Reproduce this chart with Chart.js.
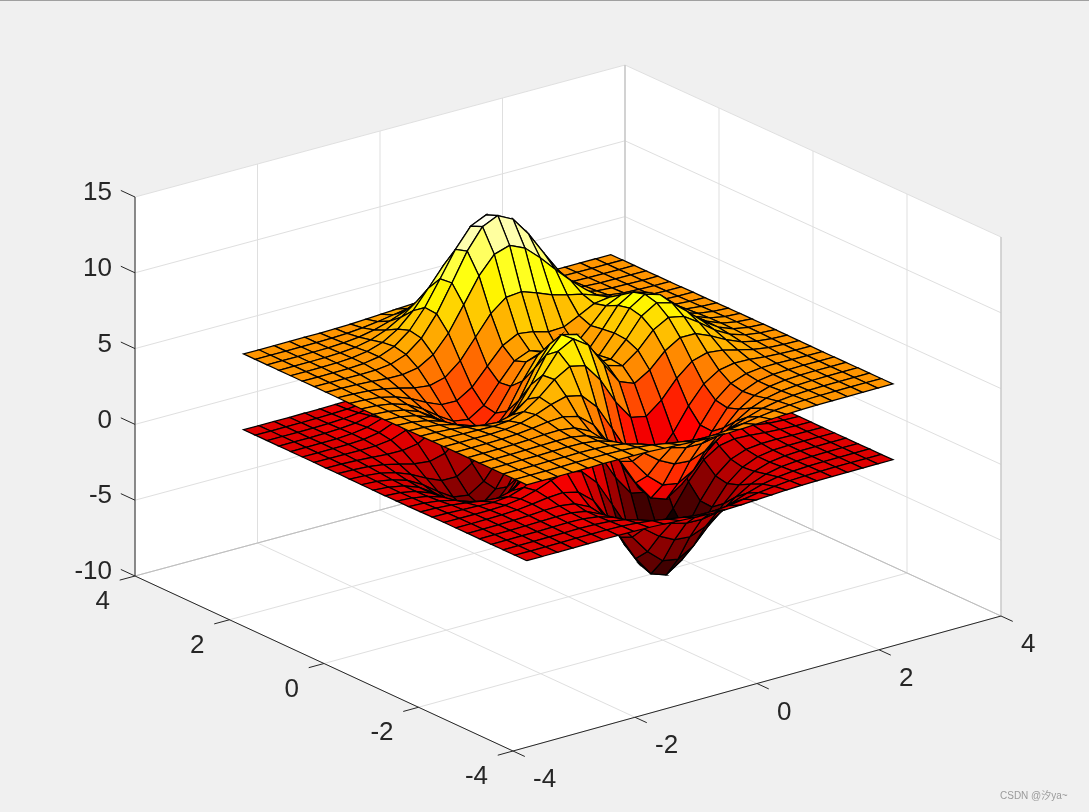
<!DOCTYPE html>
<html><head><meta charset="utf-8">
<style>html,body{margin:0;padding:0;background:#f0f0f0;overflow:hidden}canvas{display:block}#topline{position:absolute;left:0;top:0;width:1089px;height:1px;background:#a0a0a0}</style>
<script src="https://cdn.jsdelivr.net/npm/chart.js@4"></script></head><body>
<canvas id="c" width="1089" height="812"></canvas><div id="topline"></div>
<script>
const gridX=[-3,-2.75,-2.5,-2.25,-2,-1.75,-1.5,-1.25,-1,-0.75,-0.5,-0.25,0,0.25,0.5,0.75,1,1.25,1.5,1.75,2,2.25,2.5,2.75,3];
const gridY=[-3,-2.75,-2.5,-2.25,-2,-1.75,-1.5,-1.25,-1,-0.75,-0.5,-0.25,0,0.25,0.5,0.75,1,1.25,1.5,1.75,2,2.25,2.5,2.75,3];
const heights=[
[0,0,0,0,0,.01,0,-.01,-.03,-.08,-.14,-.20,-.25,-.25,-.22,-.17,-.11,-.06,-.03,-.01,-.01,0,0,0,0],
[0,0,0,0,.01,.01,0,-.02,-.10,-.22,-.39,-.56,-.68,-.69,-.61,-.46,-.30,-.17,-.08,-.03,-.01,0,0,0,0],
[0,0,0,.01,.01,.02,0,-.07,-.23,-.53,-.91,-1.31,-1.57,-1.60,-1.41,-1.06,-.69,-.38,-.18,-.08,-.03,-.01,0,0,0],
[0,0,.01,.01,.03,.04,.01,-.12,-.44,-.99,-1.74,-2.51,-3.02,-3.10,-2.72,-2.05,-1.32,-.73,-.35,-.14,-.05,-.01,0,0,0],
[0,0,.01,.02,.05,.07,.05,-.13,-.59,-1.45,-2.64,-3.88,-4.76,-4.93,-4.35,-3.27,-2.10,-1.15,-.53,-.20,-.06,-.01,0,0,0],
[0,0,.01,.03,.07,.13,.15,.02,-.46,-1.48,-3.01,-4.70,-5.98,-6.33,-5.64,-4.24,-2.69,-1.42,-.61,-.20,-.04,0,.01,0,0],
[0,0,.01,.03,.08,.19,.33,.39,.15,-.68,-2.19,-4.08,-5.68,-6.33,-5.76,-4.32,-2.64,-1.27,-.44,-.07,.04,.05,.03,.01,0],
[0,-.01,-.01,-.01,.03,.17,.45,.84,1.11,.88,-.14,-1.85,-3.60,-4.60,-4.40,-3.22,-1.74,-.56,.08,.27,.23,.13,.06,.02,.01],
[-.01,-.02,-.06,-.10,-.13,-.04,.30,.98,1.86,2.45,2.22,1.00,-.72,-2.02,-2.22,-1.43,-.27,.58,.88,.77,.50,.26,.11,.04,.01],
[-.02,-.05,-.12,-.25,-.42,-.51,-.28,.49,1.78,3.09,3.63,2.94,1.40,-.01,-.41,.20,1.18,1.79,1.78,1.35,.82,.41,.18,.06,.02],
[-.03,-.08,-.20,-.44,-.80,-1.16,-1.21,-.60,.80,2.49,3.55,3.30,2.00,.70,.39,1.14,2.20,2.76,2.56,1.88,1.12,.56,.24,.09,.03],
[-.03,-.10,-.27,-.60,-1.14,-1.78,-2.16,-1.84,-.57,1.23,2.56,2.63,1.58,.53,.48,1.50,2.76,3.37,3.09,2.25,1.34,.67,.28,.10,.03],
[-.04,-.11,-.30,-.69,-1.33,-2.14,-2.77,-2.71,-1.65,.06,1.48,1.75,.98,.19,.37,1.57,2.94,3.58,3.27,2.37,1.41,.70,.30,.11,.03],
[-.03,-.11,-.29,-.67,-1.32,-2.16,-2.87,-2.98,-2.15,-.65,.68,1.06,.52,-.03,.28,1.47,2.76,3.36,3.06,2.22,1.32,.66,.28,.10,.03],
[-.03,-.09,-.25,-.57,-1.12,-1.85,-2.49,-2.64,-2.00,-.76,.39,.80,.46,.09,.38,1.34,2.38,2.83,2.56,1.85,1.09,.54,.23,.08,.03],
[-.02,-.07,-.18,-.42,-.81,-1.33,-1.76,-1.78,-1.16,-.05,1.04,1.55,1.42,1.12,1.17,1.65,2.17,2.32,1.99,1.40,.82,.40,.17,.06,.02],
[-.01,-.04,-.11,-.25,-.48,-.74,-.86,-.60,.23,1.51,2.79,3.59,3.69,3.34,2.93,2.66,2.43,2.08,1.58,1.04,.58,.28,.11,.04,.01],
[-.01,-.02,-.06,-.12,-.20,-.22,-.05,.55,1.69,3.29,4.92,6.07,6.39,5.94,5.02,3.97,2.97,2.09,1.35,.79,.41,.19,.07,.03,.01],
[0,-.01,-.02,-.03,-.01,.11,.48,1.27,2.61,4.37,6.20,7.54,8.00,7.48,6.25,4.72,3.25,2.05,1.19,.62,.29,.12,.05,.02,0],
[0,0,0,.01,.07,.24,.65,1.43,2.67,4.29,5.96,7.22,7.68,7.20,5.99,4.45,2.96,1.78,.96,.47,.21,.08,.03,.01,0],
[0,0,.01,.02,.08,.23,.55,1.16,2.10,3.31,4.56,5.51,5.86,5.50,4.57,3.37,2.21,1.29,.68,.32,.13,.05,.02,0,0],
[0,0,0,.02,.06,.15,.36,.74,1.32,2.07,2.84,3.43,3.65,3.43,2.84,2.09,1.36,.79,.41,.19,.08,.03,.01,0,0],
[0,0,0,.01,.03,.08,.19,.39,.69,1.07,1.47,1.77,1.89,1.77,1.47,1.08,.70,.40,.21,.09,.04,.01,0,0,0],
[0,0,0,0,.01,.04,.08,.17,.30,.47,.64,.77,.82,.77,.64,.47,.30,.17,.09,.04,.02,.01,0,0,0],
[0,0,0,0,.01,.01,.03,.06,.11,.17,.23,.28,.30,.28,.23,.17,.11,.06,.03,.01,.01,0,0,0,0]
];
const upperOffset=5, lowerOffset=0;
const xTicks=[-4,-2,0,2,4], yTicks=[-4,-2,0,2,4], zTicks=[-10,-5,0,5,10,15];
const xTickLabels=["-4","-2","0","2","4"], yTickLabels=["-4","-2","0","2","4"], zTickLabels=["-10","-5","0","5","10","15"];
const watermark="CSDN @汐ya~";

// view of the 3D box onto the 2D scales
const O={x:568,y:444.4}, UX={x:61,y:-16.875}, UY={x:-47.25,y:-21.875}, UZ=-15.16;
const P=(x,y,z)=>{const b=(x+4)*(y+4)/64;return {x:O.x+UX.x*x+UY.x*y+2*b, y:O.y+UX.y*x+UY.y*y+UZ*z+3*b};};

const upper=heights.map(r=>r.map(v=>upperOffset+v));
const lower=heights.map(r=>r.map(v=>lowerOffset+v));
const cMin=Math.min(...lower.flat()), cMax=Math.max(...upper.flat());
function hot(z){
  const m=64,n=24;
  let i=Math.min(m-1,Math.floor((z-cMin)/(cMax-cMin)*m));
  const r=Math.min(1,(i+1)/n), g=Math.max(0,Math.min(1,(i+1-n)/n)), b=Math.max(0,Math.min(1,(i+1-2*n)/(m-2*n)));
  return `rgb(${Math.round(r*255)},${Math.round(g*255)},${Math.round(b*255)})`;
}
const ds=[]; // painted back to front, reversed at the end for Chart.js
const line=(pts,color,w)=>ds.push({data:pts,showLine:true,borderColor:color,borderWidth:w,pointRadius:0,fill:false,clip:false,tension:0});
ds.push({data:[P(-4,4,15),P(4,4,15),P(4,-4,15),P(4,-4,-10),P(-4,-4,-10),P(-4,4,-10),P(-4,4,15)],showLine:true,borderWidth:0,borderColor:'#fff',backgroundColor:'#fff',pointRadius:0,fill:'shape',clip:false});
const GRID='#dfdfdf', EDGE='#bdbdbd', AX='#262626';
for(const v of xTicks){ line([P(v,-4,-10),P(v,4,-10)],GRID,1); line([P(v,4,-10),P(v,4,15)],GRID,1); }
for(const v of yTicks){ line([P(-4,v,-10),P(4,v,-10)],GRID,1); line([P(4,v,-10),P(4,v,15)],GRID,1); }
for(const v of zTicks){ line([P(-4,4,v),P(4,4,v)],GRID,1); line([P(4,4,v),P(4,-4,v)],GRID,1); }
line([P(-4,4,-10),P(4,4,-10)],EDGE,1); line([P(4,4,-10),P(4,-4,-10)],EDGE,1);
line([P(4,4,-10),P(4,4,15)],EDGE,1); line([P(4,-4,-10),P(4,-4,15)],EDGE,1);
function addSurface(Z){
  for(let j=gridY.length-2;j>=0;j--) for(let i=gridX.length-2;i>=0;i--){
    const X0=gridX[i],X1=gridX[i+1],Y0=gridY[j],Y1=gridY[j+1];
    ds.push({data:[P(X0,Y0,Z[j][i]),P(X1,Y0,Z[j][i+1]),P(X1,Y1,Z[j+1][i+1]),P(X0,Y1,Z[j+1][i]),P(X0,Y0,Z[j][i])],
      showLine:true,borderColor:'#000',borderWidth:1.25,backgroundColor:hot(Z[j][i]),pointRadius:0,fill:'shape',clip:false,tension:0});
  }
}
addSurface(lower); addSurface(upper);
line([P(-4,4,-10),P(-4,4,15)],AX,1); line([P(-4,4,-10),P(-4,-4,-10)],AX,1); line([P(-4,-4,-10),P(4,-4,-10)],AX,1);
for(const v of xTicks) line([P(v,-4,-10),P(v,-4.25,-10)],AX,1);
for(const v of yTicks) line([P(-4,v,-10),P(-4.25,v,-10)],AX,1);
for(const v of zTicks) line([P(-4,4,v),P(-4,4.3,v)],AX,1);
ds.reverse();

const labels={id:'labels',afterDraw(ch){
  const c=ch.ctx,sx=ch.scales.x,sy=ch.scales.y;
  const put=(t,p,dx,dy,al)=>{c.textAlign=al;c.fillText(t,sx.getPixelForValue(p.x)+dx,sy.getPixelForValue(p.y)+dy);};
  c.save();c.fillStyle='#262626';c.font='26px "Liberation Sans",Arial,sans-serif';c.textBaseline='middle';
  zTicks.forEach((v,i)=>put(zTickLabels[i],P(-4,4,v),-23,-4,'right'));
  yTicks.forEach((v,i)=>put(yTickLabels[i],P(-4,v,-10),-25,26,'right'));
  xTicks.forEach((v,i)=>put(xTickLabels[i],P(v,-4,-10),20,29,'left'));
  c.fillStyle='#9a9a9a';c.font='10px "Liberation Sans","Noto Sans CJK SC",sans-serif';c.textAlign='left';
  c.fillText(watermark,1000,796);
  c.restore();
}};
new Chart(document.getElementById('c'),{type:'scatter',data:{datasets:ds},plugins:[labels],options:{
  responsive:false,animation:false,events:[],layout:{padding:0},
  plugins:{legend:{display:false},tooltip:{enabled:false},title:{display:false}},
  scales:{x:{type:'linear',min:0,max:1089,display:false},y:{type:'linear',min:0,max:812,reverse:true,display:false}}
}});
</script></body></html>
